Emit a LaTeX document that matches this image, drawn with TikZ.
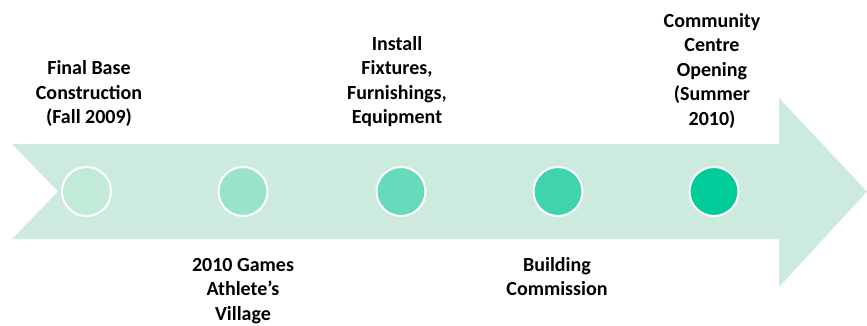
\documentclass[tikz,border=0pt]{standalone}
\usepackage{fontspec}
\setmainfont{Carlito}
\begin{document}
\begin{tikzpicture}[x=1pt,y=-1pt,
  lbl/.style={font=\bfseries\fontsize{20}{24.5}\selectfont, align=center, inner sep=0pt, text=black},
  toplbl/.style={lbl, anchor=south},
  botlbl/.style={lbl, anchor=north},
  dot/.style={circle, draw=white, line width=2pt, minimum size=49pt, inner sep=0pt}]
\definecolor{arrowc}{HTML}{CCEBDE}
\definecolor{c1}{HTML}{C2EAD9}
\definecolor{c2}{HTML}{99E3CB}
\definecolor{c3}{HTML}{66DBBB}
\definecolor{c4}{HTML}{40D4AE}
\definecolor{c5}{HTML}{00CC99}
\useasboundingbox (0,0) rectangle (867,325);
\fill[arrowc] (12,144) -- (779,144) -- (779,98) -- (867,191.5) -- (779,287) -- (779,239) -- (12,239) -- (58,191.5) -- cycle;
\node[dot, fill=c1] (d1) at (86.5,191.5) {};
\node[dot, fill=c2] (d2) at (243,191.5) {};
\node[dot, fill=c3] (d3) at (401,191.5) {};
\node[dot, fill=c4] (d4) at (558,191.5) {};
\node[dot, fill=c5] (d5) at (714,191.5) {};
\node[toplbl] (t1) at (89,131.5) {Final Base\\Construction\\(Fall 2009)\strut};
\node[toplbl] (t3) at (397,131.5) {Install\\Fixtures,\\Furnishings,\\Equipment\strut};
\node[toplbl] (t5) at (712,133) {Community\\Centre\\Opening\\(Summer\\2010)\strut};
\node[botlbl] (b2) at (243,254) {\strut 2010 Games\\Athlete’s\\Village};
\node[botlbl] (b4) at (557,254) {\strut Building\\Commission};
\end{tikzpicture}
\end{document}
